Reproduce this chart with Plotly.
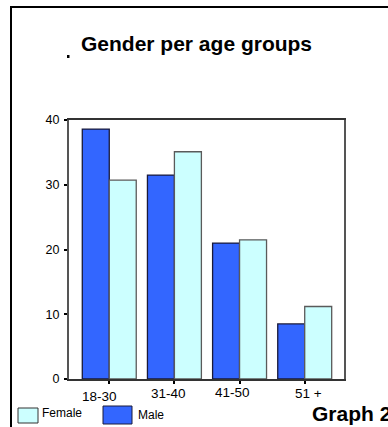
import plotly.graph_objects as go

# Age groups and head counts per gender
age_groups = ["18-30", "31-40", "41-50", "51 +"]
male = [38.6, 31.5, 21.0, 8.5]
female = [30.7, 35.1, 21.5, 11.2]
y_ticks = [0, 10, 20, 30, 40]

W, H = 388, 427
PL, PR, PT, PB = 69, 344, 120, 379  # plot area in pixels

def px(x):
    return (x - PL) / (PR - PL)

def py(y):
    return (PB - y) / (PB - PT)

FONT = "Liberation Sans, Arial, sans-serif"
pos = list(range(len(age_groups)))
bw = 0.414

fig = go.Figure()
fig.add_trace(go.Bar(
    x=pos, y=male, name="Male", width=bw, offset=-bw,
    marker=dict(color="#3366FF", line=dict(color="#1a1a3a", width=1.3)),
))
fig.add_trace(go.Bar(
    x=pos, y=female, name="Female", width=bw, offset=0,
    marker=dict(color="#CCFFFF", line=dict(color="#5a5a5a", width=1.3)),
))

fig.update_layout(
    width=W, height=H,
    margin=dict(l=PL, r=W - PR, t=PT, b=H - PB),
    paper_bgcolor="white", plot_bgcolor="white",
    showlegend=False,
    font=dict(family=FONT, color="black"),
    xaxis=dict(
        range=[-0.618, 3.603], tickvals=pos, showticklabels=False,
        ticks="outside", ticklen=3, tickwidth=2, tickcolor="black",
        showline=True, linecolor="#333", linewidth=1.5, mirror=True,
        showgrid=False, zeroline=False,
    ),
    yaxis=dict(
        range=[0, 40], tickvals=y_ticks,
        ticks="outside", ticklen=3, tickwidth=2, tickcolor="black",
        tickfont=dict(size=12.5), ticklabelstandoff=2,
        showline=True, linecolor="#555", linewidth=2, mirror=True,
        showgrid=False, zeroline=False,
    ),
)

# Category labels under the bars
label_shift = [-10, -6, -7, 4]
label_y = [396, 393, 392, 393]
for i, lab in enumerate(age_groups):
    fig.add_annotation(
        x=pos[i], xref="x", y=py(label_y[i]), yref="paper",
        text=lab, showarrow=False, xshift=label_shift[i],
        font=dict(size=13.5, family=FONT), xanchor="center", yanchor="middle",
    )

shapes = []
# Outer frame (left and top edges)
shapes.append(dict(type="line", xref="paper", yref="paper",
                   x0=px(11), x1=px(11), y0=py(7), y1=py(H + 5),
                   line=dict(color="black", width=2)))
shapes.append(dict(type="line", xref="paper", yref="paper",
                   x0=px(10), x1=px(W + 5), y0=py(7), y1=py(7),
                   line=dict(color="black", width=2)))
# Small dot beside the title
shapes.append(dict(type="rect", xref="paper", yref="paper",
                   x0=px(67), x1=px(69.5), y0=py(58), y1=py(55),
                   fillcolor="black", line=dict(width=0)))
# Legend swatches
shapes.append(dict(type="rect", xref="paper", yref="paper",
                   x0=px(18), x1=px(38), y0=py(423), y1=py(408),
                   fillcolor="#CCFFFF", line=dict(color="#333", width=1)))
shapes.append(dict(type="rect", xref="paper", yref="paper",
                   x0=px(103), x1=px(132), y0=py(424), y1=py(406),
                   fillcolor="#3366FF", line=dict(color="#1a1a3a", width=1)))
fig.update_layout(shapes=shapes)

# Title, legend text and caption
fig.add_annotation(x=px(79), y=py(44), xref="paper", yref="paper",
                   text="<b>Gender per age groups</b>", showarrow=False,
                   xanchor="left", yanchor="middle",
                   font=dict(size=21, family=FONT))
fig.add_annotation(x=px(40), y=py(413), xref="paper", yref="paper",
                   text="Female", showarrow=False, xanchor="left", yanchor="middle",
                   font=dict(size=12, family=FONT))
fig.add_annotation(x=px(136), y=py(415), xref="paper", yref="paper",
                   text="Male", showarrow=False, xanchor="left", yanchor="middle",
                   font=dict(size=12, family=FONT))
fig.add_annotation(x=px(310), y=py(413), xref="paper", yref="paper",
                   text="<b>Graph 2</b>", showarrow=False, xanchor="left", yanchor="middle",
                   font=dict(size=21, family=FONT))

fig.write_html("out.html")
